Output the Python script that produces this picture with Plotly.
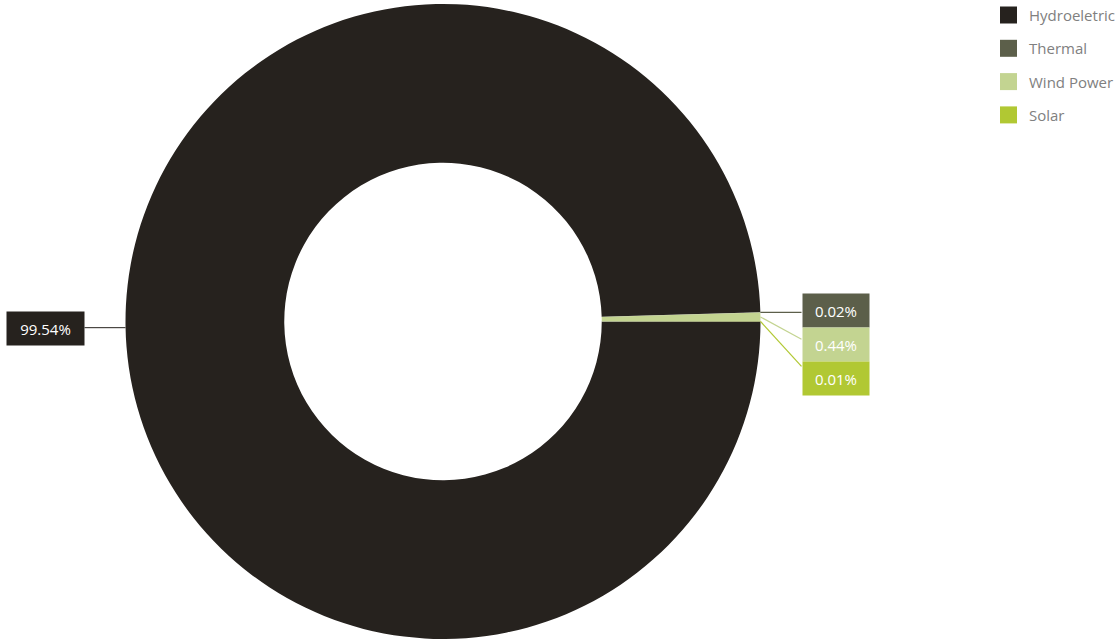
import math
import plotly.graph_objects as go

# Electricity generation mix (share of total, %)
sources = ["Hydroeletric", "Thermal", "Wind Power", "Solar"]
shares = [99.54, 0.02, 0.44, 0.01]
colors = ["#26221e", "#5c5f4a", "#c3d491", "#b1c833"]

W, H = 1118, 639
CX, CY, R = 443, 321.5, 317.5
FONT = "Open Sans"


def px(x):
    return x / W


def py(y):
    return 1 - y / H


fig = go.Figure(
    go.Pie(
        labels=sources,
        values=shares,
        hole=0.5,
        sort=False,
        direction="clockwise",
        rotation=90,
        marker=dict(colors=colors, line=dict(width=0)),
        textinfo="none",
        hoverinfo="label+percent",
        showlegend=False,
        domain=dict(x=[(CX - R) / W, (CX + R) / W], y=[0, (H - (CY - R)) / H]),
    )
)

shapes = []
annotations = []

total = sum(shares)
cum = 0.0
right_k = 0
right_base = None
for name, v, c in zip(sources, shares, colors):
    mid = -(cum + v / 2) / total * 2 * math.pi
    cum += v
    sx = CX + R * math.cos(mid)
    sy = CY - R * math.sin(mid)
    text = f"{v:.2f}%"
    if math.cos(mid) < 0:
        # left-hand label
        bx = CX - R - 41
        cy_box = sy + 2
        shapes.append(dict(type="line", xref="paper", yref="paper",
                           x0=px(CX - R), y0=py(cy_box - 0.5), x1=px(bx), y1=py(cy_box - 0.5),
                           line=dict(color=c, width=1)))
        annotations.append(dict(x=px(bx), y=py(cy_box), xref="paper", yref="paper",
                                xanchor="right", yanchor="middle", text=text, showarrow=False,
                                width=77, height=33, bgcolor=c, borderpad=0,
                                font=dict(family=FONT, size=15, color="#ffffff")))
    else:
        # right-hand labels, stacked downward
        bx = CX + R + 41
        if right_base is None:
            right_base = sy
        cy_box = right_base - 1.5 + 34 * right_k
        ey = right_base + 27 * right_k
        shapes.append(dict(type="line", xref="paper", yref="paper",
                           x0=px(sx), y0=py(sy), x1=px(bx), y1=py(ey),
                           line=dict(color=c, width=1.2)))
        annotations.append(dict(x=px(bx), y=py(cy_box), xref="paper", yref="paper",
                                xanchor="left", yanchor="middle", text=text, showarrow=False,
                                width=66, height=33, bgcolor=c, borderpad=0,
                                font=dict(family=FONT, size=15, color="#ffffff")))
        right_k += 1

# Legend drawn as swatches plus labels
for i, (name, c) in enumerate(zip(sources, colors)):
    yc = 15 + 33.3 * i
    shapes.append(dict(type="rect", xref="paper", yref="paper",
                       x0=px(1000), x1=px(1017), y0=py(yc - 8.5), y1=py(yc + 8.5),
                       fillcolor=c, line=dict(width=0)))
    annotations.append(dict(x=px(1027), y=py(yc), xref="paper", yref="paper",
                            xanchor="left", yanchor="middle", text=name, showarrow=False,
                            font=dict(family=FONT, size=15, color="#808080")))

fig.update_layout(
    width=W,
    height=H,
    margin=dict(l=0, r=0, t=0, b=0),
    paper_bgcolor="#ffffff",
    plot_bgcolor="#ffffff",
    shapes=shapes,
    annotations=annotations,
)

fig.write_html("out.html")
